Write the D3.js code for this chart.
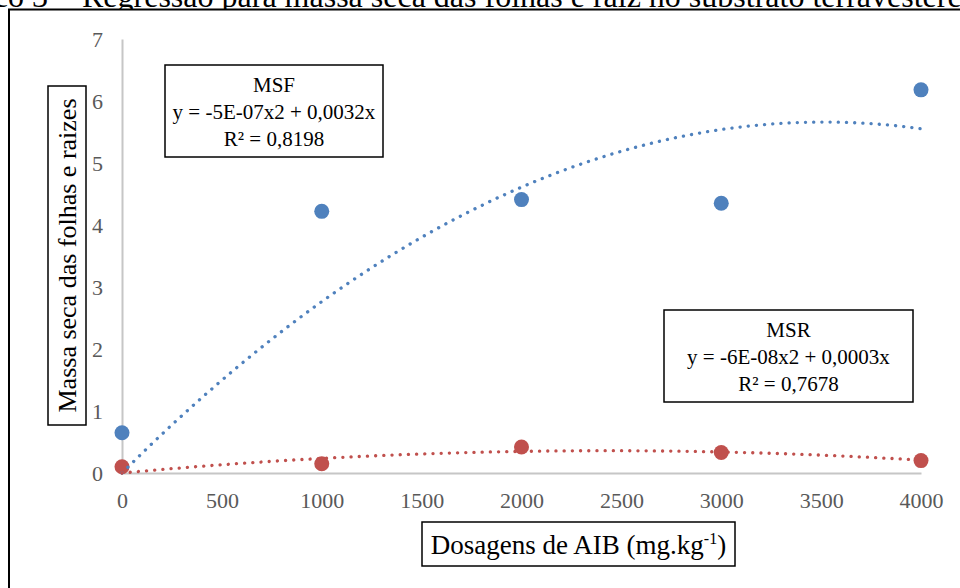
<!DOCTYPE html>
<html>
<head>
<meta charset="utf-8">
<script src="https://cdn.jsdelivr.net/npm/d3@7"></script>
<style>
  body { margin: 0; background: #fff; }
  svg { display: block; font-family: "Liberation Serif", "Times New Roman", serif; }
</style>
</head>
<body>
<svg id="chart"></svg>
<script>
// dosagens de AIB (mg/kg) e massa seca medida
const doses = [0, 1000, 2000, 3000, 4000];
const msf = [0.65, 4.22, 4.41, 4.35, 6.18];
const msr = [0.10, 0.15, 0.42, 0.33, 0.20];
const xTicks = [0, 500, 1000, 1500, 2000, 2500, 3000, 3500, 4000];
const yTicks = [0, 1, 2, 3, 4, 5, 6, 7];
const msfLabel = ["MSF", "y = -5E-07x2 + 0,0032x", "R² = 0,8198"];
const msrLabel = ["MSR", "y = -6E-08x2 + 0,0003x", "R² = 0,7678"];

const width = 960, height = 588;
const margin = { top: 39, right: 39, bottom: 115, left: 122 };
const serif = "Liberation Serif, Times New Roman, serif";

const svg = d3.select("#chart")
    .attr("width", width)
    .attr("height", height);

// titulo cortado no topo
svg.append("text")
    .attr("x", 72).attr("y", 7)
    .attr("text-anchor", "end")
    .attr("font-size", 32)
    .text("Gráfico 3 –");
svg.append("text")
    .attr("x", 82).attr("y", 7)
    .attr("font-size", 32)
    .text("Regressão para massa seca das folhas e raiz no substrato terravestere");

// moldura
svg.append("rect")
    .attr("x", 9).attr("y", 9.5)
    .attr("width", 970).attr("height", 600)
    .attr("fill", "#fff")
    .attr("stroke", "#000")
    .attr("stroke-width", 2);

const x = d3.scaleLinear().domain([0, 4000]).range([margin.left, width - margin.right]);
const y = d3.scaleLinear().domain([0, 7]).range([height - margin.bottom, margin.top]);

// eixos
const gx = svg.append("g")
    .attr("transform", `translate(0,${y(0)})`)
    .call(d3.axisBottom(x).tickValues(xTicks).tickFormat(d3.format("d"))
        .tickSize(0).tickPadding(19).tickSizeOuter(0));
const gy = svg.append("g")
    .attr("transform", `translate(${x(0)},0)`)
    .call(d3.axisLeft(y).tickValues(yTicks).tickFormat(d3.format("d"))
        .tickSize(0).tickPadding(19).tickSizeOuter(0));

[gx, gy].forEach(g => {
    g.select(".domain").attr("stroke", "#c6c6c6").attr("stroke-width", 2);
    g.selectAll("text")
        .attr("fill", "#595959")
        .attr("font-size", 22)
        .attr("font-family", serif);
});

// regressão polinomial de 2a ordem pela origem (y = a x² + b x)
function fitQuadOrigin(xs, ys) {
    let s4 = 0, s3 = 0, s2 = 0, s2y = 0, s1y = 0;
    xs.forEach((xv, i) => {
        s4 += xv ** 4; s3 += xv ** 3; s2 += xv ** 2;
        s2y += xv * xv * ys[i]; s1y += xv * ys[i];
    });
    const det = s4 * s2 - s3 * s3;
    const a = (s2y * s2 - s3 * s1y) / det;
    const b = (s4 * s1y - s3 * s2y) / det;
    return xv => a * xv * xv + b * xv;
}

const series = [
    { values: msf, color: "#4f81bd" },
    { values: msr, color: "#c0504d" }
];

// pontos
series.forEach(s => {
    svg.append("g")
        .selectAll("circle")
        .data(doses)
        .join("circle")
        .attr("cx", d => x(d))
        .attr("cy", (d, i) => y(s.values[i]))
        .attr("r", 7.5)
        .attr("fill", s.color);
});

// linhas de tendência pontilhadas
const samples = d3.range(0, 4001, 10);
series.forEach(s => {
    const f = fitQuadOrigin(doses, s.values);
    svg.append("path")
        .datum(samples)
        .attr("fill", "none")
        .attr("stroke", s.color)
        .attr("stroke-width", 3.3)
        .attr("stroke-linecap", "round")
        .attr("stroke-dasharray", "0.1 8.1")
        .attr("d", d3.line().x(d => x(d)).y(d => y(f(d))));
});

// caixas com equações
function labelBox(lines, cx, top, w) {
    const g = svg.append("g");
    g.append("rect")
        .attr("x", cx - w / 2).attr("y", top)
        .attr("width", w).attr("height", 92)
        .attr("fill", "#fff")
        .attr("stroke", "#000")
        .attr("stroke-width", 1.5);
    g.selectAll("text")
        .data(lines)
        .join("text")
        .attr("x", cx)
        .attr("y", (d, i) => top + 27 + i * 27)
        .attr("text-anchor", "middle")
        .attr("font-family", serif)
        .attr("font-size", 21)
        .text(d => d);
}
labelBox(msfLabel, 274, 65, 218);
labelBox(msrLabel, 788.5, 310, 249);

// título do eixo y
const yl = svg.append("g");
yl.append("rect")
    .attr("x", 48).attr("y", 86)
    .attr("width", 38).attr("height", 339)
    .attr("fill", "#fff")
    .attr("stroke", "#000")
    .attr("stroke-width", 1.5);
yl.append("text")
    .attr("transform", "translate(76,255.5) rotate(-90)")
    .attr("text-anchor", "middle")
    .attr("font-size", 26)
    .text("Massa seca das folhas e raizes");

// título do eixo x
const xl = svg.append("g");
xl.append("rect")
    .attr("x", 422).attr("y", 522)
    .attr("width", 313).attr("height", 44)
    .attr("fill", "#fff")
    .attr("stroke", "#000")
    .attr("stroke-width", 1.5);
const xt = xl.append("text")
    .attr("x", 578.5).attr("y", 554)
    .attr("text-anchor", "middle")
    .attr("font-size", 27);
xt.append("tspan").text("Dosagens de AIB (mg.kg");
xt.append("tspan").attr("font-size", 16).attr("dy", -10).text("-1");
xt.append("tspan").attr("dy", 10).text(")");
</script>
</body>
</html>
